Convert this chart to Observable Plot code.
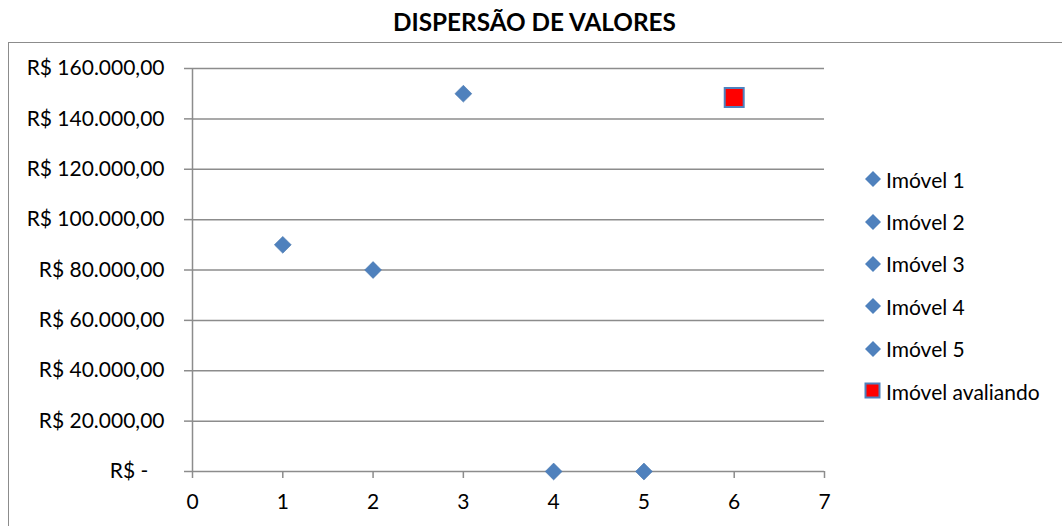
<!DOCTYPE html>
<html><head><meta charset="utf-8">
<script src="https://cdn.jsdelivr.net/npm/d3@7"></script>
<script src="https://cdn.jsdelivr.net/npm/@observablehq/plot@0.6"></script>
<style>
body{margin:0;background:#fff;font-family:Lato,sans-serif;color:#000}
#wrap{position:relative;width:1062px;height:526px;overflow:hidden;background:#fff}
#frame{position:absolute;left:8px;top:42px;width:1100px;height:600px;border:1.5px solid #8c8c8c;box-sizing:border-box}
#title{position:absolute;left:0;width:1069px;top:7px;line-height:30px;text-align:center;font-weight:bold;font-size:24.3px}
#chart{position:absolute;left:0;top:0}
#legend{position:absolute;left:864px;top:158px;font-size:21px}
.item{height:42.4px;display:flex;align-items:center}
.item svg{margin-right:4px}
</style></head>
<body>
<div id="wrap">
  <div id="frame"></div>
  <div id="chart"></div>
  <div id="title"></div>
  <div id="legend"></div>
</div>
<script>
const titleText = "DISPERSÃO DE VALORES";
const names = ["Imóvel 1", "Imóvel 2", "Imóvel 3", "Imóvel 4", "Imóvel 5", "Imóvel avaliando"];
const xs = [1, 2, 3, 4, 5, 6];
const values = [90000, 80000, 150000, 0, 0, 148500];
const yTicks = [0, 20000, 40000, 60000, 80000, 100000, 120000, 140000, 160000];
const xTicks = [0, 1, 2, 3, 4, 5, 6, 7];

const blue = "#4F81BD";
const red = "#FF0000";
const axisGray = "#8c8c8c";

const rows = names.map((n, i) => ({name: n, x: xs[i], v: values[i]}));
const fmt = v => v === 0 ? "R$ -\u00a0\u00a0\u00a0" : "R$ " + d3.format(",.2f")(v).replace(/,/g, "#").replace(".", ",").replace(/#/g, ".");

document.getElementById("title").textContent = titleText;

const chart = Plot.plot({
  width: 1062, height: 526,
  marginLeft: 192, marginRight: 238, marginTop: 68, marginBottom: 55,
  x: {domain: [0, 7], label: null},
  y: {domain: [0, 160000], label: null},
  style: {fontFamily: "Lato, sans-serif", fontSize: "21px", color: "#000", background: "transparent"},
  marks: [
    Plot.gridY(yTicks, {stroke: axisGray, strokeOpacity: 1, strokeWidth: 1.5}),
    Plot.ruleX([0], {y1: 0, y2: 160000, stroke: axisGray, strokeWidth: 1.5}),
    Plot.axisY(yTicks, {tickSize: 8, tickPadding: 20, tickFormat: fmt, stroke: axisGray, strokeWidth: 1.5, fill: "#000", label: null}),
    Plot.axisX(xTicks, {tickSize: 7, tickPadding: 16, tickFormat: d => String(d), stroke: axisGray, strokeWidth: 1.5, fill: "#000", label: null}),
    Plot.dot(rows.filter(d => d.name !== "Imóvel avaliando"), {x: "x", y: "v", symbol: "diamond2", r: 7.6, fill: blue, stroke: "#4675ad", strokeWidth: 0.6}),
    Plot.dot(rows.filter(d => d.name === "Imóvel avaliando"), {x: "x", y: "v", symbol: "square", r: 10.7, fill: red, stroke: blue, strokeWidth: 2})
  ]
});
document.getElementById("chart").appendChild(chart);

const legend = document.getElementById("legend");
names.forEach(n => {
  const item = document.createElement("div");
  item.className = "item";
  const isSq = n === "Imóvel avaliando";
  item.innerHTML = isSq
    ? `<svg width="18" height="18"><rect x="1.5" y="1.5" width="14" height="14" fill="${red}" stroke="${blue}" stroke-width="2"/></svg>`
    : `<svg width="18" height="18"><path d="M9,1L17,9L9,17L1,9Z" fill="${blue}"/></svg>`;
  const span = document.createElement("span");
  span.textContent = n;
  item.appendChild(span);
  legend.appendChild(item);
});
</script>
</body></html>
